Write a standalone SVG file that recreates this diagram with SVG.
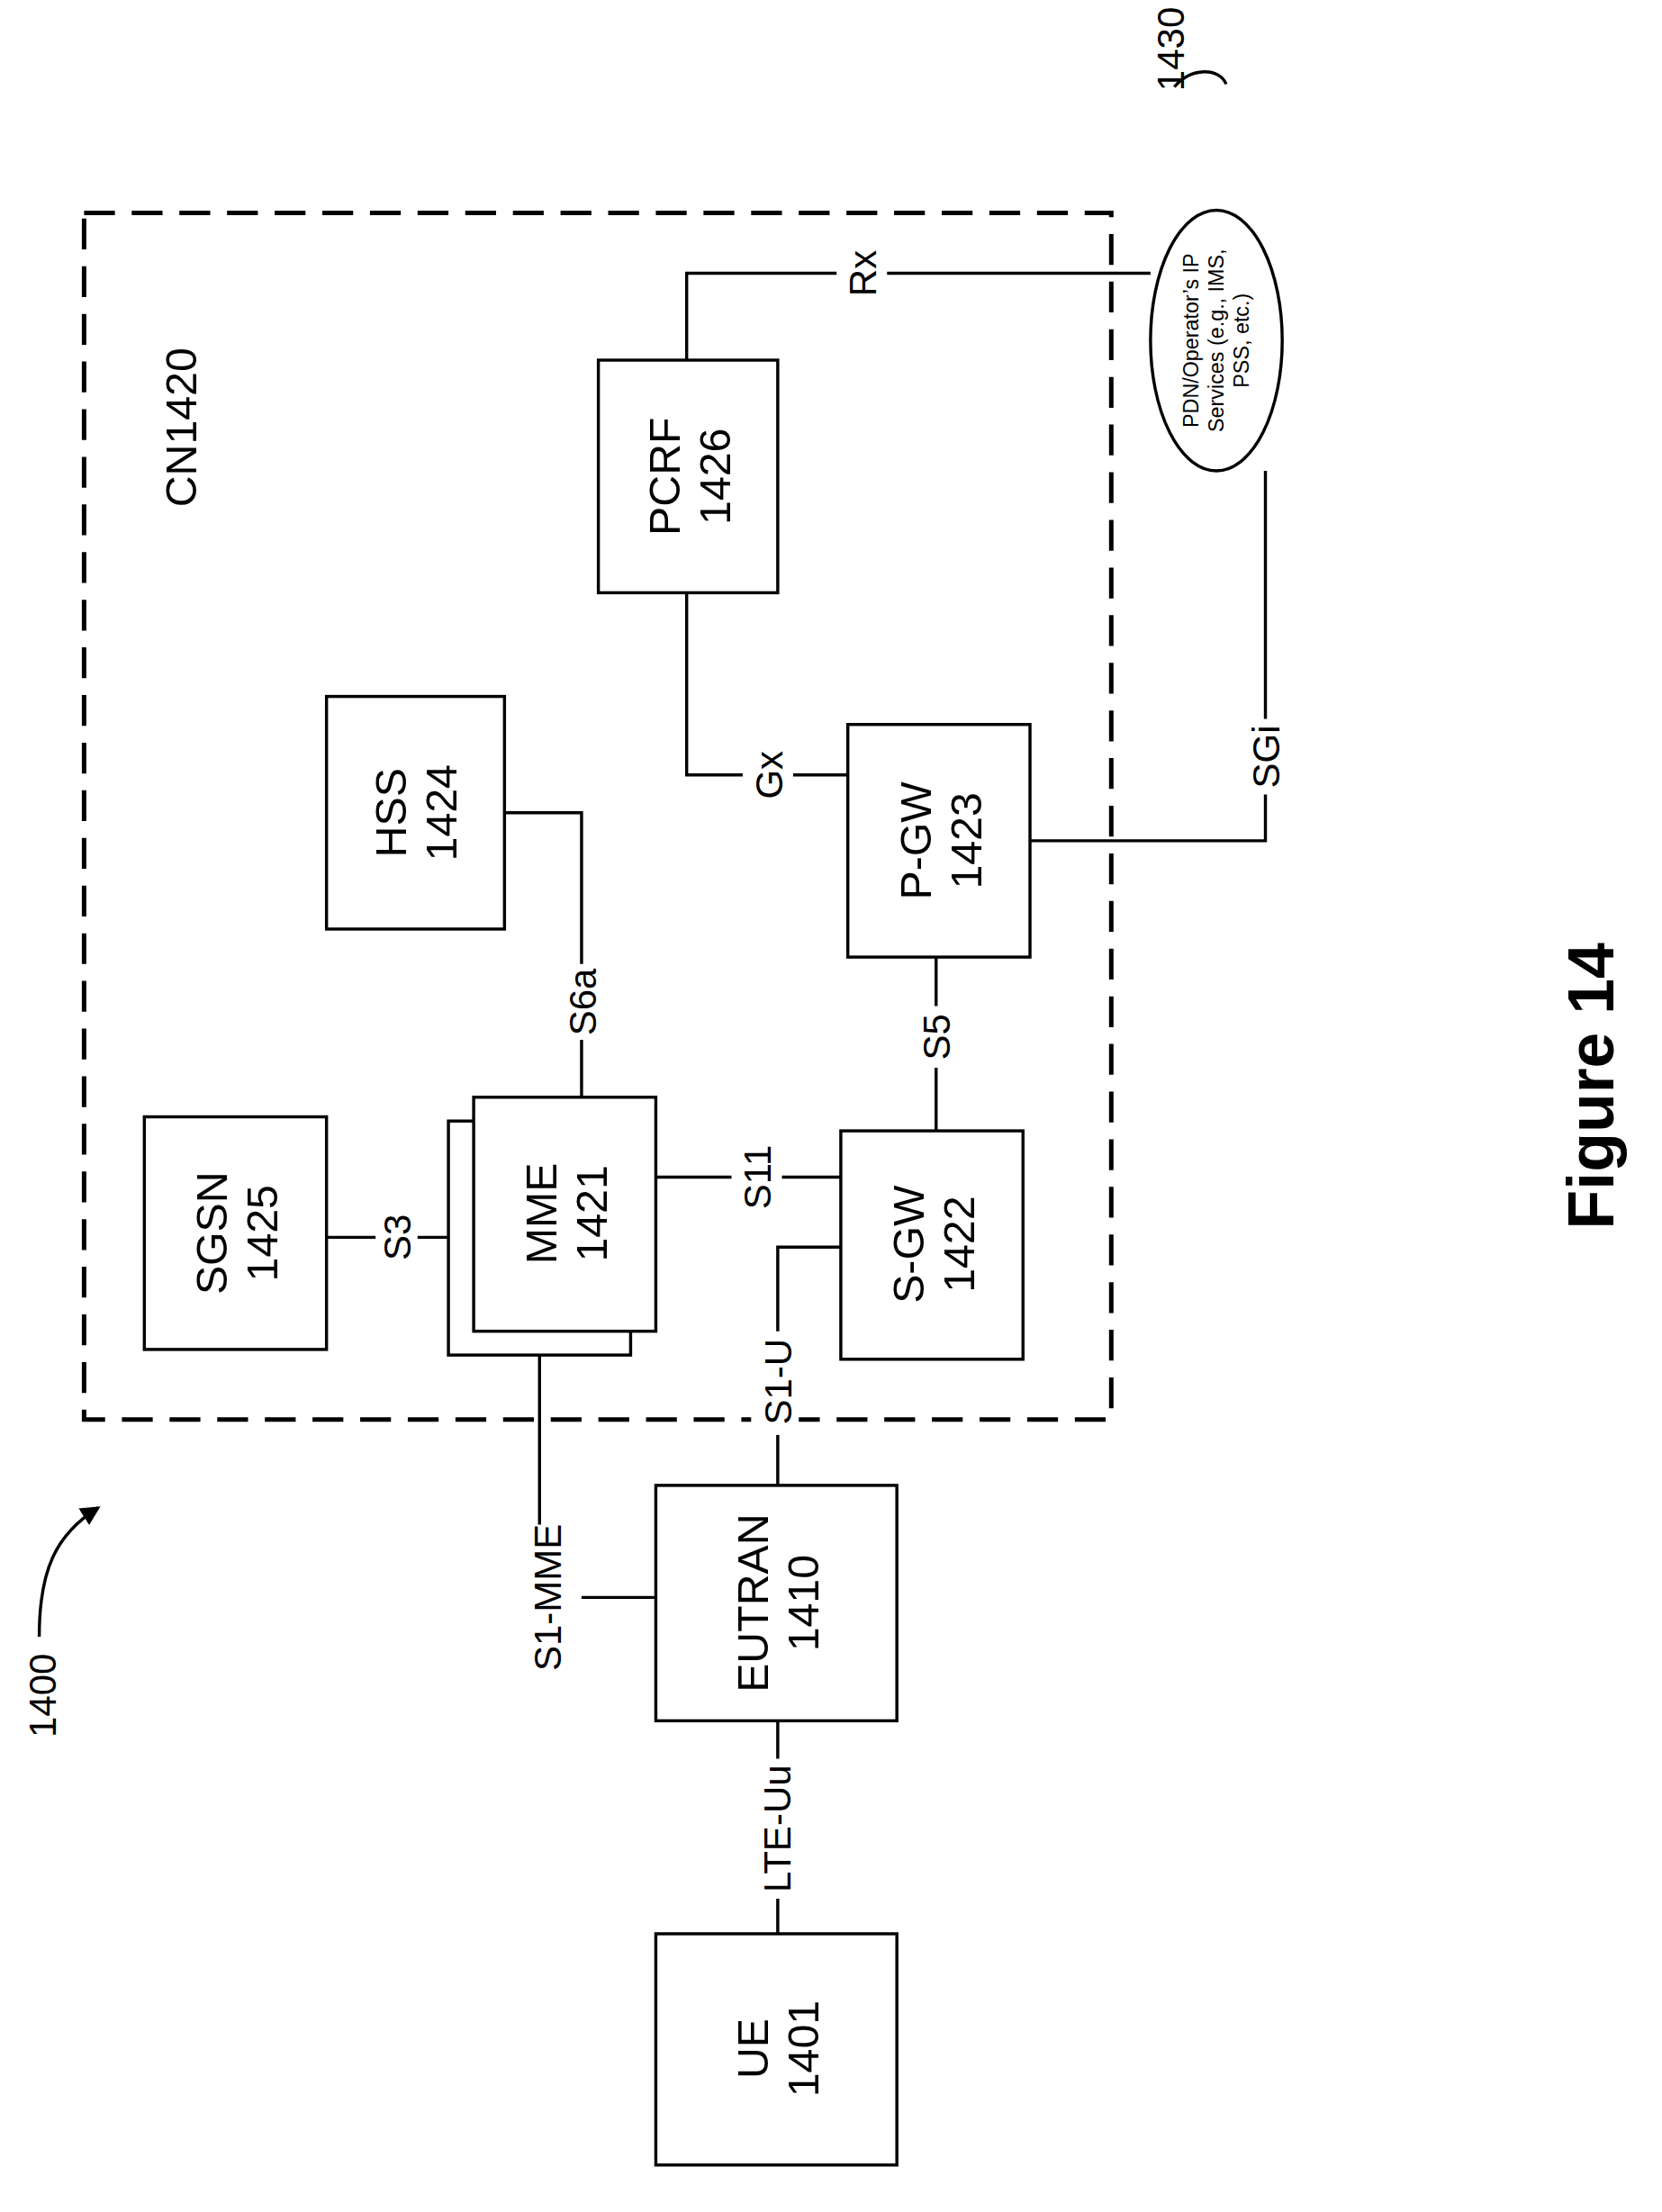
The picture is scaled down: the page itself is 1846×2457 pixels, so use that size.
<svg xmlns="http://www.w3.org/2000/svg" width="1846" height="2457" viewBox="0 0 1846 2457">
<style>
.b{fill:#fff;stroke:#000;stroke-width:2.2}
.l{fill:none;stroke:#000;stroke-width:2.2}
text{font-family:"Liberation Sans",Arial,sans-serif;fill:#000;text-anchor:middle}
.t{font-size:31px}
.c{font-size:27px}
.s{font-size:15px}
</style>
<defs><marker id="ah" markerWidth="14" markerHeight="14" refX="12" refY="7" orient="auto" markerUnits="userSpaceOnUse"><path d="M0,0 L14,7 L0,14 z" fill="#000"/></marker></defs>
<rect width="1846" height="2457" fill="#fff"/>
<g transform="scale(1.5565)">
<g id="cn"><rect x="60" y="152" width="733" height="861" fill="none" stroke="#000" stroke-width="3.2" stroke-dasharray="22,12"/>
<text class="t" transform="translate(140,305) rotate(-90)">CN1420</text></g>
<g id="connectors">
<path class="l" d="M555,1228 V1255 M555,1355 V1380"/>
<path class="l" d="M468,1140 H415"/>
<path class="l" d="M385,1088 V965"/>
<path class="l" d="M555,1060 V1022 M555,950 V890 H600"/>
<path class="l" d="M233,883 H268 M298,883 H320"/>
<path class="l" d="M360,580 H415 V688 M415,742 V783"/>
<path class="l" d="M467,840 H522 M558,840 H600"/>
<path class="l" d="M668,807 V762 M668,718 V683"/>
<path class="l" d="M490,423 V553 H530 M566,553 H605"/>
<path class="l" d="M490,257 V195 H597 M633,195 H821"/>
<path class="l" d="M735,600 H903 V567 M903,513 V336"/>
<path class="l" d="M28,1168 C28,1120 40,1095 70,1076" marker-end="url(#ah)"/>
<path class="l" d="M838,62 C850,48 870,48 875,60"/>
</g>
<g id="labels">
<rect x="536" y="1000" width="34" height="24" fill="#fff"/>
<text class="c" transform="translate(555,1305) rotate(-90)" dy="9">LTE-Uu</text>
<text class="c" transform="translate(390,1140) rotate(-90)" dy="10">S1-MME</text>
<text class="c" transform="translate(555,986) rotate(-90)" dy="10">S1-U</text>
<text class="c" transform="translate(283,883) rotate(-90)" dy="10">S3</text>
<text class="c" transform="translate(415,715) rotate(-90)" dy="10">S6a</text>
<text class="c" transform="translate(540,840) rotate(-90)" dy="10">S11</text>
<text class="c" transform="translate(668,740) rotate(-90)" dy="10">S5</text>
<text class="c" transform="translate(548,553) rotate(-90)" dy="10">Gx</text>
<text class="c" transform="translate(615,195) rotate(-90)" dy="10">Rx</text>
<text class="c" transform="translate(903,540) rotate(-90)" dy="10">SGi</text>
<text class="c" transform="translate(30,1210) rotate(-90)" dy="10">1400</text>
<text class="c" transform="translate(835,35) rotate(-90)" dy="10">1430</text>
<text transform="translate(1135,775) rotate(-90)" dy="16" style="font-size:46px;font-weight:bold">Figure 14</text>
</g>
<g id="ue"><rect class="b" x="468" y="1380" width="172" height="165"/><text class="t" transform="translate(554,1462) rotate(-90)"><tspan x="0" dy="-6">UE</tspan><tspan x="0" dy="36">1401</tspan></text></g>
<g id="eutran"><rect class="b" x="468" y="1060" width="172" height="168"/><text class="t" transform="translate(554,1144) rotate(-90)"><tspan x="0" dy="-6">EUTRAN</tspan><tspan x="0" dy="36">1410</tspan></text></g>
<g id="sgsn"><rect class="b" x="103" y="797" width="130" height="166"/><text class="t" transform="translate(168,880) rotate(-90)"><tspan x="0" dy="-6">SGSN</tspan><tspan x="0" dy="36">1425</tspan></text></g>
<g id="mme"><rect class="b" x="320" y="800" width="130" height="167"/><rect class="b" x="338" y="783" width="130" height="167"/><text class="t" transform="translate(403,866) rotate(-90)"><tspan x="0" dy="-6">MME</tspan><tspan x="0" dy="36">1421</tspan></text></g>
<g id="hss"><rect class="b" x="233" y="497" width="127" height="166"/><text class="t" transform="translate(296,580) rotate(-90)"><tspan x="0" dy="-6">HSS</tspan><tspan x="0" dy="36">1424</tspan></text></g>
<g id="sgw"><rect class="b" x="600" y="807" width="130" height="163"/><text class="t" transform="translate(665,888) rotate(-90)"><tspan x="0" dy="-6">S-GW</tspan><tspan x="0" dy="36">1422</tspan></text></g>
<g id="pgw"><rect class="b" x="605" y="517" width="130" height="166"/><text class="t" transform="translate(670,600) rotate(-90)"><tspan x="0" dy="-6">P-GW</tspan><tspan x="0" dy="36">1423</tspan></text></g>
<g id="pcrf"><rect class="b" x="427" y="257" width="128" height="166"/><text class="t" transform="translate(491,340) rotate(-90)"><tspan x="0" dy="-6">PCRF</tspan><tspan x="0" dy="36">1426</tspan></text></g>
<g id="pdn"><ellipse class="b" cx="868" cy="243" rx="47" ry="93"/><text class="s" transform="translate(868,243) rotate(-90)"><tspan x="0" dy="-13">PDN/Operator’s IP</tspan><tspan x="0" dy="18">Services (e.g., IMS,</tspan><tspan x="0" dy="18">PSS, etc.)</tspan></text></g>
</g>
</svg>
